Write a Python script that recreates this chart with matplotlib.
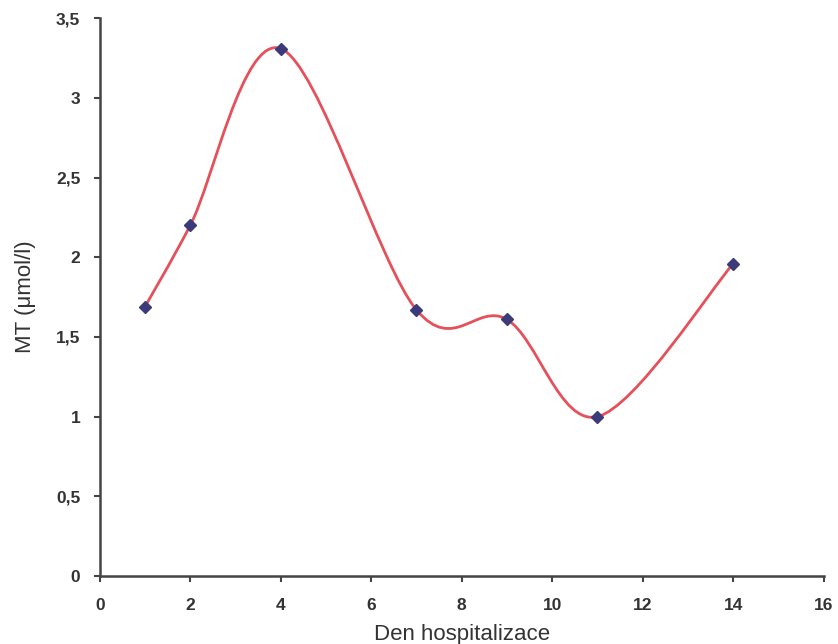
import matplotlib
matplotlib.use("Agg")
import matplotlib.pyplot as plt
import numpy as np
from matplotlib.path import Path
from matplotlib.patches import PathPatch

# hospital day vs MT concentration
days = [1, 2, 4, 7, 9, 11, 14]
mt_values = [1.69, 2.2, 3.31, 1.67, 1.61, 1.0, 1.96]

x_ticks = [0, 2, 4, 6, 8, 10, 12, 14, 16]
y_ticks = [0, 0.5, 1, 1.5, 2, 2.5, 3, 3.5]
y_tick_labels = ["0", "0,5", "1", "1,5", "2", "2,5", "3", "3,5"]


def smooth_path(xs, ys):
    # Excel-like smoothed line: Catmull-Rom as cubic Bezier segments
    pts = np.column_stack([xs, ys]).astype(float)
    ext = np.vstack([pts[0], pts, pts[-1]])
    verts = [pts[0]]
    codes = [Path.MOVETO]
    for i in range(1, len(ext) - 2):
        p0, p1, p2, p3 = ext[i - 1], ext[i], ext[i + 1], ext[i + 2]
        c1 = p1 + (p2 - p0) / 6
        c2 = p2 - (p3 - p1) / 6
        verts += [c1, c2, p2]
        codes += [Path.CURVE4] * 3
    return Path(verts, codes)


plt.rcParams["font.family"] = ["Liberation Sans", "DejaVu Sans"]

fig = plt.figure(figsize=(8.38, 6.44), dpi=100)
ax = fig.add_axes([0.119, 0.1056, 0.864, 0.866])

ax.add_patch(PathPatch(smooth_path(days, mt_values), facecolor="none",
                       edgecolor="#e5505a", linewidth=2, zorder=2))
ax.plot(days, mt_values, linestyle="none", marker="D", markersize=6,
        color="#3b3b7a", zorder=3)

ax.set_xlim(0, 16)
ax.set_ylim(0, 3.5)
ax.set_xticks(x_ticks)
ax.set_yticks(y_ticks)
ax.set_yticklabels(y_tick_labels)

for side in ("top", "right"):
    ax.spines[side].set_visible(False)
for side in ("left", "bottom"):
    ax.spines[side].set_color("#444444")
    ax.spines[side].set_linewidth(1.8)

ax.tick_params(axis="both", direction="out", length=4, width=1.5,
               color="#444444", labelcolor="#333333", labelsize=12.5)
ax.tick_params(axis="x", pad=12)
ax.tick_params(axis="y", pad=10)
for lbl in ax.get_xticklabels() + ax.get_yticklabels():
    lbl.set_fontweight("bold")

ax.set_xlabel("Den hospitalizace", fontsize=16, color="#333333", labelpad=8)
ax.set_ylabel("MT (\u03bcmol/l)", fontsize=16, color="#333333", labelpad=14)

fig.savefig("out.png", dpi=100)
